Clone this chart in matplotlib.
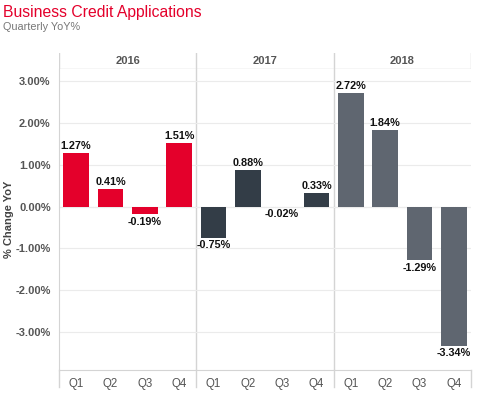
import matplotlib.pyplot as plt
import numpy as np
from matplotlib.ticker import FuncFormatter

years = ['2016', '2017', '2018']
quarters = ['Q1', 'Q2', 'Q3', 'Q4']
vals_2016 = [1.27, 0.41, -0.19, 1.51]
vals_2017 = [-0.75, 0.88, -0.02, 0.33]
vals_2018 = [2.72, 1.84, -1.29, -3.34]
year_colors = ['#E4002B', '#333D47', '#5F6670']

W, H = 478, 395
fig = plt.figure(figsize=(W / 100, H / 100), dpi=100)
plt.rcParams['font.family'] = ['Liberation Sans', 'DejaVu Sans']

left, right, top, bottom = 59, 471, 69, 370
ax = fig.add_axes([left / W, 1 - bottom / H, (right - left) / W, (bottom - top) / H])
hax = fig.add_axes([left / W, 1 - top / H, (right - left) / W, 16 / H])

series = [vals_2016, vals_2017, vals_2018]
for i, (vals, col) in enumerate(zip(series, year_colors)):
    x = np.arange(4) + 4 * i
    ax.bar(x, vals, width=0.75, color=col, zorder=3)
    for xi, v in zip(x, vals):
        off = 0.05 if v >= 0 else -0.05
        ax.text(xi, v + off, f'{v:.2f}%', ha='center',
                va='bottom' if v >= 0 else 'top',
                fontsize=7.8, fontweight='bold', color='#111111', zorder=4)

ax.set_xlim(-0.5, 11.5)
ax.set_ylim(-3.91, 3.29)
ax.set_yticks([-3, -2, -1, 0, 1, 2, 3])
ax.yaxis.set_major_formatter(FuncFormatter(lambda v, p: f'{v:.2f}%'))
ax.grid(axis='y', color='#EBEBEB', lw=0.8, zorder=0)
ax.axhline(0, color='#C8C8C8', lw=0.8, ls=(0, (1, 1)), zorder=1)
for xv in [3.5, 7.5]:
    ax.axvline(xv, color='#D4D4D4', lw=1, zorder=1)

ax.set_xticks(np.arange(12))
ax.set_xticklabels(quarters * 3)
ax.tick_params(axis='x', length=0, pad=6, labelsize=8.3, labelcolor='#555555')
ax.tick_params(axis='y', length=0, pad=6, labelsize=8, labelcolor='#555555')
for lab in ax.get_yticklabels():
    lab.set_fontweight('bold')
for sp in ['top', 'right']:
    ax.spines[sp].set_visible(False)
ax.spines['left'].set_color('#D4D4D4')
ax.spines['bottom'].set_color('#D4D4D4')
ax.set_ylabel('% Change YoY', fontsize=8, fontweight='bold', color='#444444')
ax.yaxis.set_label_coords(-(left - 14) / (right - left), 0.5)

# extend pane dividers through the quarter labels
for xv in [-0.5, 3.5, 7.5, 11.5]:
    ax.plot([xv, xv], [-3.91, -4.32], color='#D4D4D4', lw=1, clip_on=False)

# year header
hax.set_xlim(-0.5, 11.5)
hax.set_ylim(0, 1)
hax.set_xticks([])
hax.set_yticks([])
for sp in hax.spines.values():
    sp.set_visible(False)
hax.axhline(0, color='#D4D4D4', lw=1)
for xv in [-0.5, 3.5, 7.5, 11.5]:
    hax.axvline(xv, color='#D4D4D4', lw=1)
for i, y in enumerate(years):
    hax.text(1.5 + 4 * i, 0.5, y, ha='center', va='center', fontsize=8,
             fontweight='bold', color='#555555')

fig.text(3 / W, 1 - 13 / H, 'Business Credit Applications', fontsize=11.3,
         color='#E4002B', va='center')
fig.text(3 / W, 1 - 27 / H, 'Quarterly YoY%', fontsize=7.8, color='#777777', va='center')

fig.savefig('out.png', dpi=100)
